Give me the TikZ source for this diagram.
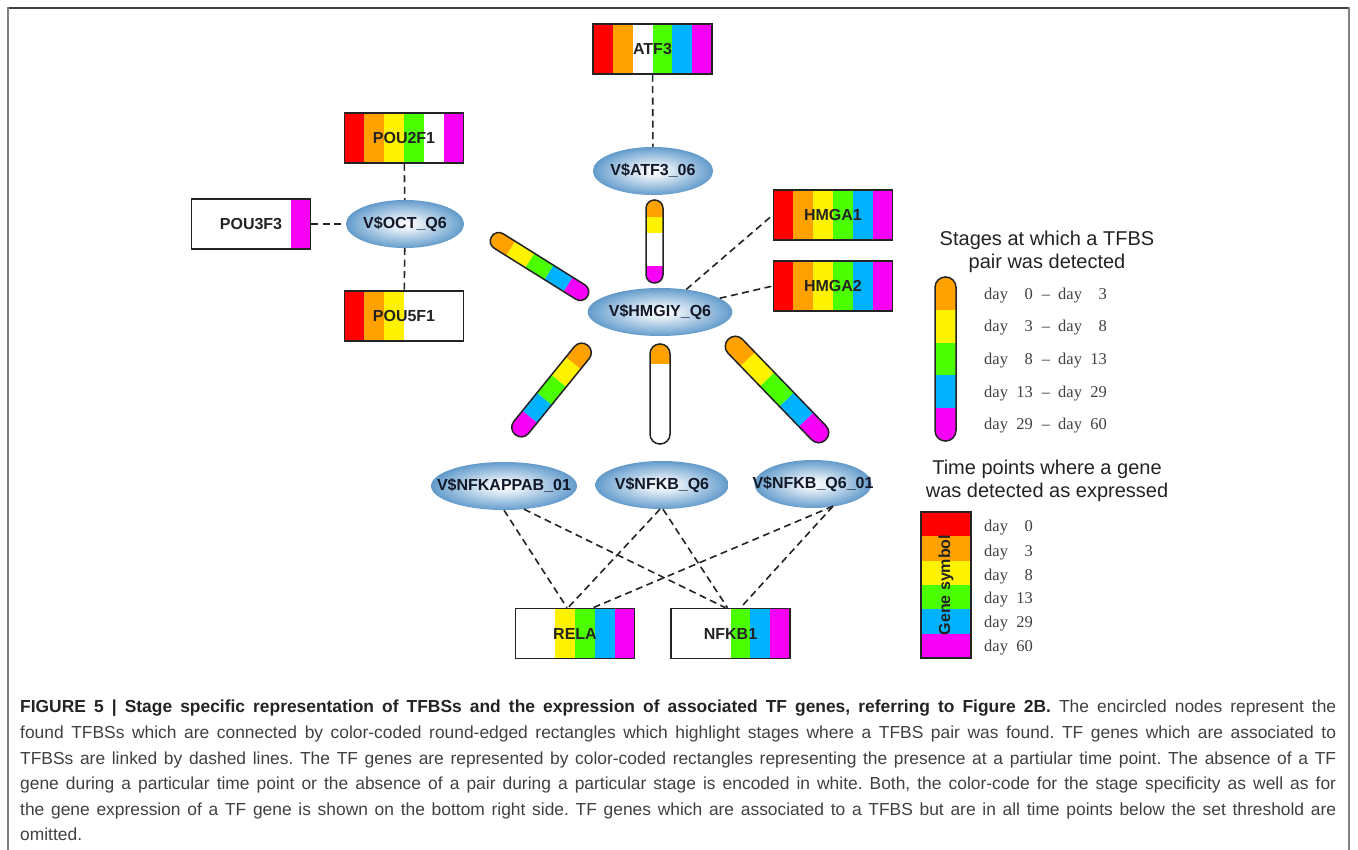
\documentclass[tikz,border=0pt]{standalone}
\usepackage{fontspec}
\usepackage{graphicx}
\setmainfont{Liberation Sans}
\newfontfamily\dayfont{Liberation Serif}
\usetikzlibrary{shapes.geometric,calc}
\frenchspacing

\definecolor{tred}{RGB}{255,0,0}
\definecolor{torange}{RGB}{255,162,0}
\definecolor{tyellow}{RGB}{255,242,0}
\definecolor{tgreen}{RGB}{76,255,0}
\definecolor{tblue}{RGB}{0,178,255}
\definecolor{tmagenta}{RGB}{246,0,246}
\definecolor{tfblue}{RGB}{30,112,182}
\definecolor{inkgray}{RGB}{35,35,35}
\definecolor{capgray}{RGB}{64,64,64}
\definecolor{sitetext}{RGB}{18,24,40}

\pgfdeclareradialshading{sitegrad}{\pgfpoint{0bp}{0bp}}{%
  color(0bp)=(white);
  color(6bp)=(white!88!tfblue);
  color(22bp)=(white!40!tfblue);
  color(35bp)=(tfblue!92!black);
  color(50bp)=(tfblue!92!black)}

% rounded stage bar: centre, angle, length, width, colours
\newcommand{\stagebar}[5]{%
  \begin{scope}[shift={#1}, rotate=#2]
    \begin{scope}
      \clip[rounded corners=0.49*#4pt] (-#3/2,-#4/2) rectangle (#3/2,#4/2);
      \foreach \c [count=\i from 0] in {#5}
        \fill[\c] ({-#3/2+\i*#3/5},-#4/2) rectangle ({-#3/2+(\i+1)*#3/5},#4/2);
    \end{scope}
    \draw[barline, rounded corners=0.49*#4pt] (-#3/2,-#4/2) rectangle (#3/2,#4/2);
  \end{scope}}

\begin{document}
\begin{tikzpicture}[
        x=1pt, y=-1pt,
        genebox/.style={
            draw=inkgray,
            line width=1.5pt,
            minimum width=119pt,
            minimum height=50pt,
            inner sep=0pt,
            text=inkgray,
            font=\fontsize{16}{18}\selectfont\bfseries,
            path picture={
                \foreach \c [count=\i from 0] in {#1}
                    \fill[\c] ($(path picture bounding box.south west)!\i/6!(path picture bounding box.south east)$)
                        rectangle ($(path picture bounding box.north west)!\i/6+1/6!(path picture bounding box.north east)$);
            }
        },
        genekey/.style={
            draw=inkgray,
            line width=1.5pt,
            minimum width=50pt,
            minimum height=146pt,
            inner sep=0pt,
            text=inkgray,
            font=\fontsize{16}{18}\selectfont\bfseries,
            path picture={
                \foreach \c [count=\i from 0] in {#1}
                    \fill[\c] ($(path picture bounding box.north west)!\i/6!(path picture bounding box.south west)$)
                        rectangle ($(path picture bounding box.north east)!\i/6+1/6!(path picture bounding box.south east)$);
            }
        },
        site/.style={
            ellipse,
            shading=sitegrad,
            minimum width=117pt,
            minimum height=48pt,
            inner sep=0pt,
            text=sitetext,
            font=\fontsize{16}{18}\selectfont\bfseries
        },
        barline/.style={draw=inkgray, line width=1.5pt},
        link/.style={draw=inkgray, line width=1.6pt, dash pattern=on 7pt off 4.5pt},
        legtitle/.style={align=center, text=inkgray, font=\fontsize{20}{22.5}\selectfont},
        daytext/.style={inner sep=0pt, text=capgray, font=\dayfont\fontsize{16.5}{18}\selectfont},
        caption/.style={inner sep=0pt, text width=1316pt, align=justify, text=capgray,
            font=\fontsize{17.4}{25.6}\selectfont}
    ]
        \useasboundingbox (0,0) rectangle (1358,850);

        % -- Frame --
        \draw[line width=2pt, black!75] (8,8) -- (1349,8);
        \draw[line width=2.5pt, black!50] (8,7) -- (8,850);
        \draw[line width=2.5pt, black!50] (1349,7) -- (1349,850);

        % -- TF genes --
        \node [genebox={tred,torange,white,tgreen,tblue,tmagenta}] (atf3) at (652.5,49) {ATF3};
        \node [genebox={tred,torange,tyellow,tgreen,white,tmagenta}] (pou2f1) at (404,138) {POU2F1};
        \node [genebox={white,white,white,white,white,tmagenta}] (pou3f3) at (251,224) {POU3F3};
        \node [genebox={tred,torange,tyellow,white,white,white}] (pou5f1) at (404,316) {POU5F1};
        \node [genebox={tred,torange,tyellow,tgreen,tblue,tmagenta}] (hmga1) at (833,215) {HMGA1};
        \node [genebox={tred,torange,tyellow,tgreen,tblue,tmagenta}] (hmga2) at (833,286) {HMGA2};
        \node [genebox={white,white,tyellow,tgreen,tblue,tmagenta}] (rela) at (575,633.5) {RELA};
        \node [genebox={white,white,white,tgreen,tblue,tmagenta}] (nfkb1) at (730.5,633.5) {NFKB1};

        % -- TFBS nodes --
        \node [site] (octsite) at (405,224) {V\$OCT\_Q6};
        \node [site] (atfsite) at (653,171) {V\$ATF3\_06};
        \node [site] (hmgsite) at (660,312) {V\$HMGIY\_Q6};
        \node [site, minimum width=146pt] (kappasite) at (504,486) {\makebox[0pt]{V\$NFKAPPAB\_01}};
        \node [site] (nfkbsite) at (662,485) {V\$NFKB\_Q6};
        \node [site] (nfkbsite01) at (813,484) {\makebox[0pt]{V\$NFKB\_Q6\_01}};

        % -- Stage bars --
        \stagebar{(654.5,241.5)}{-90}{83}{17}{torange,tyellow,white,white,tmagenta}
        \stagebar{(539.5,266.5)}{-32}{113}{17}{torange,tyellow,tgreen,tblue,tmagenta}
        \stagebar{(551.5,390)}{231}{115}{19}{torange,tyellow,tgreen,tblue,tmagenta}
        \stagebar{(660,394)}{-90}{100}{20}{torange,white,white,white,white}
        \stagebar{(777,389.5)}{-46}{140}{20}{torange,tyellow,tgreen,tblue,tmagenta}

        % -- Dashed links --
        \path [link] (atf3) -- (atfsite);
        \path [link] (pou2f1) -- (octsite);
        \path [link] (pou3f3) -- (octsite);
        \path [link] (octsite) -- (pou5f1);
        \path [link] (hmgsite) -- (hmga1.west);
        \path [link] (hmgsite) -- (hmga2.west);
        \path [link] (kappasite.south) -- ($(rela.north)+(-8,0)$);
        \path [link] ($(kappasite.south)+(20,-1)$) -- ($(nfkb1.north)+(-5,0)$);
        \path [link] ($(nfkbsite.south)+(-2,0)$) -- ($(rela.north)+(-7,0)$);
        \path [link] ($(nfkbsite.south)+(1,0)$) -- ($(nfkb1.north)+(-3,0)$);
        \path [link] ($(nfkbsite01.south)+(20,-2)$) -- ($(rela.north)+(18,0)$);
        \path [link] ($(nfkbsite01.south)+(20,-2)$) -- ($(nfkb1.north)+(10,0)$);

        % -- Legend: stages --
        \node [legtitle] (stagetitle) at (1047,252) {Stages at which a TFBS\\pair was detected};
        \stagebar{(945.5,359)}{-90}{164}{21}{torange,tyellow,tgreen,tblue,tmagenta}
        \foreach \a/\b [count=\i from 0] in {0/3,3/8,8/13,13/29,29/60} {
            \node [daytext, anchor=base west] (sday\i) at (984,{299.5+32.5*\i}) {day};
            \node [daytext, anchor=base east] (sfrom\i) at (1033,{299.5+32.5*\i}) {\a};
            \node [daytext, anchor=base] (sdash\i) at (1046,{299.5+32.5*\i}) {\textendash};
            \node [daytext, anchor=base west] (eday\i) at (1058,{299.5+32.5*\i}) {day};
            \node [daytext, anchor=base east] (sto\i) at (1107,{299.5+32.5*\i}) {\b};
        }

        % -- Legend: time points --
        \node [legtitle] (timetitle) at (1047,481) {Time points where a gene\\was detected as expressed};
        \node [genekey={tred,torange,tyellow,tgreen,tblue,tmagenta}] (symbolkey) at (946,585) {\rotatebox{90}{Gene symbol}};
        \foreach \d/\y [count=\i] in {0/526,3/551,8/575,13/598,29/622,60/646} {
            \node [daytext, anchor=base west] (tday\i) at (984,\y+5.5) {day};
            \node [daytext, anchor=base east] (tnum\i) at (1033,\y+5.5) {\d};
        }

        % -- Caption --
        \node [caption, anchor=north west] (figcap) at (20,700) {%
            {\bfseries\color{inkgray}FIGURE 5 | Stage specific representation of TFBSs and the expression of associated TF genes, referring to Figure 2B.} The encircled nodes represent the\linebreak
            found TFBSs which are connected by color-coded round-edged rectangles which highlight stages where a TFBS pair was found. TF genes which are associated to\linebreak
            TFBSs are linked by dashed lines. The TF genes are represented by color-coded rectangles representing the presence at a partiular time point. The absence of a TF\linebreak
            gene during a particular time point or the absence of a pair during a particular stage is encoded in white. Both, the color-code for the stage specificity as well as for\linebreak
            the gene expression of a TF gene is shown on the bottom right side. TF genes which are associated to a TFBS but are in all time points below the set threshold are\linebreak
            omitted.};
    \end{tikzpicture}
\end{document}
